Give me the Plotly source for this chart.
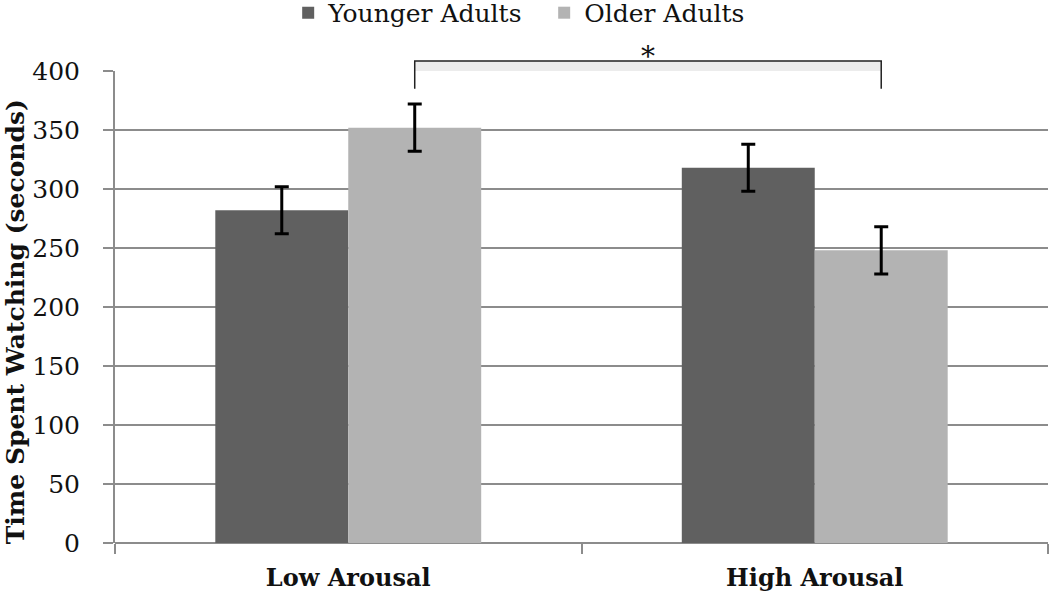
import plotly.graph_objects as go

categories = ["Low Arousal", "High Arousal"]
younger = [282, 318]
older = [352, 248]
younger_err = [20, 20]
older_err = [20, 20]
y_ticks = [0, 50, 100, 150, 200, 250, 300, 350, 400]
bracket_top = 408.5
bracket_end = 385
star_y = 412

YMAX = 400
BAR_OFFSET = 0.1425
FONT = "DejaVu Serif"

fig = go.Figure()
fig.add_trace(go.Bar(
    x=categories, y=younger, name="Younger Adults", marker_color="#606060",
    marker_line_width=0,
    error_y=dict(type="data", array=younger_err, color="black", thickness=3, width=7),
))
fig.add_trace(go.Bar(
    x=categories, y=older, name="Older Adults", marker_color="#b3b3b3",
    marker_line_width=0,
    error_y=dict(type="data", array=older_err, color="black", thickness=3, width=7),
))

def px(cat_idx):
    return (cat_idx + BAR_OFFSET + 0.5) / 2.0

def py(v):
    return v / YMAX

x0, x1 = px(0), px(1)
# light shaded band under bracket
fig.add_shape(type="rect", xref="paper", yref="paper", x0=x0, x1=x1,
              y0=py(YMAX), y1=py(bracket_top), fillcolor="#ececec",
              line_width=0, layer="below")
fig.add_shape(type="path", xref="paper", yref="paper",
              path=f"M {x0},{py(bracket_end)} L {x0},{py(bracket_top)} L {x1},{py(bracket_top)} L {x1},{py(bracket_end)}",
              line=dict(color="#222222", width=1.5))
fig.add_annotation(xref="paper", yref="paper", x=(x0 + x1) / 2, y=py(star_y),
                   text="*", showarrow=False, font=dict(family=FONT, size=28, color="#111"),
                   yanchor="middle")
fig.add_annotation(xref="paper", yref="paper", x=-0.107, y=0.468,
                   text="<b>Time Spent Watching (seconds)</b>", textangle=-90,
                   showarrow=False, font=dict(family=FONT, size=25, color="#111"),
                   xanchor="center", yanchor="middle")

fig.update_layout(
    width=1050, height=595,
    margin=dict(l=115, r=2, t=71, b=52, autoexpand=False),
    paper_bgcolor="white", plot_bgcolor="white",
    barmode="group", bargap=0.43, bargroupgap=0,
    font=dict(family=FONT, color="#111"),
    legend=dict(orientation="h", x=0.46, xanchor="center", y=1.123, yanchor="middle",
                font=dict(family=FONT, size=25), entrywidth=211, traceorder="normal"),
    showlegend=True,
)
fig.update_xaxes(
    type="category", range=[-0.5, 1.5], showgrid=False,
    showline=False, ticks="outside", tickson="boundaries", ticklen=10,
    tickwidth=2, tickcolor="#8c8c8c",
    tickfont=dict(family=FONT, size=24, color="#111"),
    tickvals=categories, ticktext=[f"<b>{c}</b>" for c in categories],
    ticklabelstandoff=18,
)
fig.update_yaxes(
    range=[0, YMAX], tickvals=y_ticks, showgrid=True, gridcolor="#8c8c8c", gridwidth=2,
    showline=True, linecolor="#8c8c8c", linewidth=2,
    ticks="outside", ticklen=10, tickwidth=2, tickcolor="#8c8c8c",
    tickfont=dict(family=FONT, size=25, color="#111"),
    zeroline=True, zerolinecolor="#8c8c8c", zerolinewidth=2,
    ticklabelstandoff=18,
)

fig.write_html("out.html", config={"displayModeBar": False},
               post_script="document.body.style.margin='0';document.body.style.overflow='hidden';")
